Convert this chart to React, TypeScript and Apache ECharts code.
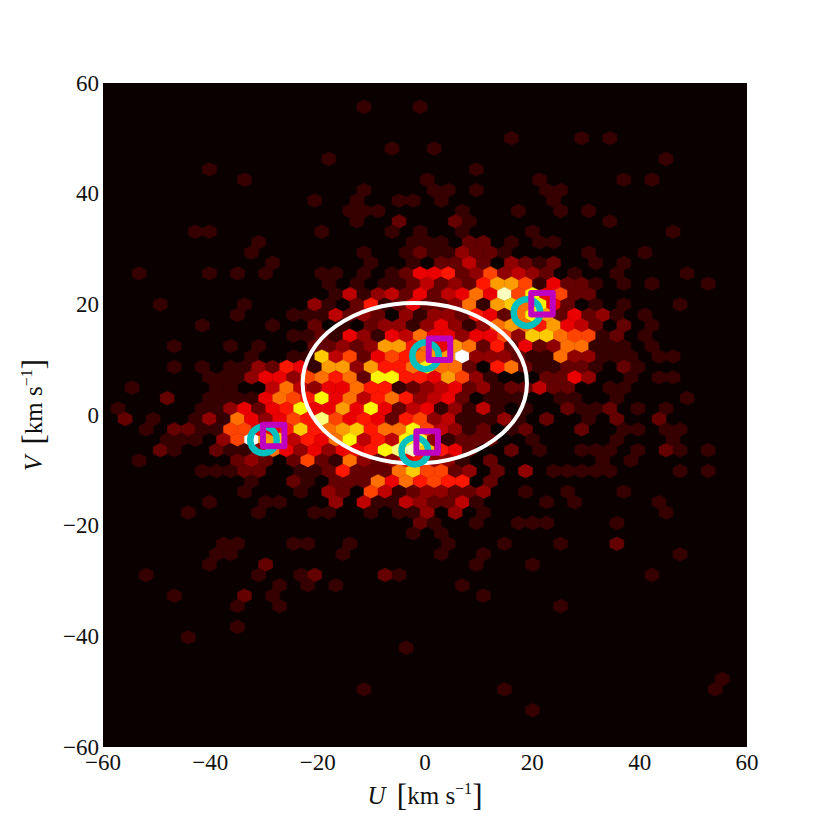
import React, { useEffect, useRef } from "react";
import * as echarts from "echarts";

const xTicks = [-60, -40, -20, 0, 20, 40, 60];
const yTicks = [-60, -40, -20, 0, 20, 40, 60];

// hexbin grid, in data units
const gridU0 = -61.12;
const gridDU = 2.618;
const gridV0 = 55.67;
const gridDV = 1.8796;

// counts 0..15 -> "hot" colormap
const levelColors = [
  "#0b0000", "#370000", "#640000", "#900000", "#bd0000", "#ea0000", "#ff1700", "#ff4400",
  "#ff7000", "#ff9d00", "#ffca00", "#fff600", "#ffff36", "#ffff7a", "#ffffbd", "#ffffff",
];

// [row, first column, counts (hex digits, "." = empty)]
const hexCounts: [number, number, string][] = [
  [0, 19, "1...1"],
  [3, 29, "1....1.1"],
  [4, 21, "1..1"],
  [5, 16, "1"],
  [5, 40, "1"],
  [6, 8, "1"],
  [6, 27, "1"],
  [7, 10, "1"],
  [7, 23, "1"],
  [7, 31, "1.....1.1"],
  [8, 19, "1....11.1....11"],
  [9, 15, "1..1..11.1.......1"],
  [10, 18, "111.....1...1..1.1"],
  [11, 18, "1..2...21.........1"],
  [12, 7, "11.......1....1.1..1....1.........1"],
  [13, 11, "1..........111.22.1.11"],
  [14, 11, "1.......1..12113221.....1...1"],
  [15, 12, "1......1..1.2242.3212..1.1"],
  [16, 3, "1....1.1.1...11.1.125562373432.1..1....1"],
  [17, 16, "1.1.1124232699715221.1.1...1"],
  [18, 17, "141342524585e7b5722"],
  [19, 4, "1.....1....31.26125223819a8b52.1.1...1"],
  [20, 10, "1...1114232.313326528b925231.1"],
  [21, 7, "1....1..2.1.23313531389869542.2.1"],
  [22, 14, "11215315485535573aa87712.1"],
  [23, 5, "1...1.1...22323996859826252388111.1"],
  [24, 11, "1..11a472576899f333211833111.11"],
  [25, 5, "1.1.11326519939668b882.68211221.21"],
  [26, 8, "111355378682bb6659731...2253..1.11"],
  [27, 2, "1.....11..4843558661234523122422..11"],
  [28, 5, "2..11115876b5846863452.111..11..1....1"],
  [29, 1, "1.....1135256b5595b524513141.1..2112.1.1"],
  [30, 2, "2.1..131853576d75652673411131.2..1.2..2"],
  [31, 3, "1.221177556a689a688b74312.12...2..11.11"],
  [32, 5, "111.37f9a4658b464bc31222..1.....1...1"],
  [33, 4, "21..211385353556bdea652..2.1..111.1.21.1"],
  [34, 3, "1......232.2721832356331.2.......1.1"],
  [35, 7, "11122..11262228a7723.2.3.11111....1.1"],
  [36, 11, "1..21.2228586766.2"],
  [37, 10, "1...1.32.741233223..1..1...1"],
  [38, 8, "1...11...3.411432241....1.1.....1"],
  [39, 6, "1....1...11..1.113.3.1"],
  [39, 40, "1"],
  [40, 23, "21..1..111....1"],
  [41, 22, "1.1"],
  [42, 9, "11...11..1......1...1...1...2"],
  [43, 8, "11.......1......1..1.............1"],
  [44, 8, "1...2..............1...1"],
  [45, 3, "1.......1..12....21"],
  [45, 39, "1"],
  [46, 13, "1.1.1........1"],
  [47, 5, "1....2.1..............1"],
  [48, 10, "1..1...................1"],
  [50, 10, "1"],
  [51, 6, "1"],
  [52, 22, "1"],
  [55, 44, "1"],
  [56, 19, "1.........1..............1"],
  [58, 31, "1"],
];

const ellipseCenter = [-1.9, 5.75];
const ellipseRadii = [20.9, 14.5];
const circlePoints = [
  [-30.1, -4.5],
  [0.1, 10.7],
  [-1.9, -6.5],
  [19.0, 18.5],
];
const squarePoints = [
  [-28.2, -3.7],
  [2.7, 11.9],
  [0.4, -4.9],
  [21.8, 20.1],
];

const hexData: number[][] = [];
hexCounts.forEach(([row, first, counts]) => {
  counts.split("").forEach((ch, i) => {
    if (ch === ".") return;
    const col = first + i;
    hexData.push([
      gridU0 + gridDU * (col + (row % 2 ? 0.5 : 0)),
      gridV0 - gridDV * row,
      parseInt(ch, 16),
    ]);
  });
});

const fontFamily = '"Liberation Serif", serif';
const tickFormat = (v: number) => (v < 0 ? "\u2212" + Math.abs(v) : String(v));

function axisName(symbol: string) {
  return `{it|${symbol}}{n| \u2009}{br|[}{n|km s}{sup|\u22121}{br|]}`;
}
const nameRich = {
  it: { fontFamily, fontStyle: "italic", fontSize: 25, color: "#111" },
  n: { fontFamily, fontSize: 25, color: "#111" },
  br: { fontFamily, fontSize: 31, color: "#111" },
  sup: { fontFamily, fontSize: 16, color: "#111", verticalAlign: "top", padding: [0, 0, 8, 0] },
};

export default function App() {
  const ref = useRef<HTMLDivElement>(null);
  useEffect(() => {
    document.body.style.margin = "0";
    const chart = echarts.init(ref.current!, undefined, { renderer: "svg" });
    chart.setOption({
      animation: false,
      backgroundColor: "#ffffff",
      grid: {
        left: 103,
        top: 83,
        width: 644,
        height: 664,
        show: true,
        backgroundColor: levelColors[0],
        borderWidth: 0,
      },
      xAxis: {
        type: "value",
        min: xTicks[0],
        max: xTicks[xTicks.length - 1],
        interval: 20,
        splitLine: { show: false },
        axisTick: { show: false },
        axisLine: { show: false },
        axisLabel: { formatter: tickFormat, fontFamily, fontSize: 23, lineHeight: 16, color: "#111", margin: 7 },
        name: axisName("U"),
        nameLocation: "middle",
        nameGap: 33,
        nameTextStyle: { rich: nameRich },
      },
      yAxis: {
        type: "value",
        min: yTicks[0],
        max: yTicks[yTicks.length - 1],
        interval: 20,
        splitLine: { show: false },
        axisTick: { show: false },
        axisLine: { show: false },
        axisLabel: {
          formatter: tickFormat,
          fontFamily,
          fontSize: 23,
          lineHeight: 16,
          padding: [0, 0, 7, 0],
          color: "#111",
          margin: 4,
        },
        name: axisName("V"),
        nameLocation: "middle",
        nameGap: 54,
        nameTextStyle: { rich: nameRich },
      },
      series: [
        {
          type: "custom",
          data: hexData,
          encode: { x: 0, y: 1 },
          clip: true,
          z: 2,
          renderItem: (_p: any, api: any) => {
            const u = api.value(0);
            const v = api.value(1);
            const hw = gridDU / 2;
            const hh = (gridDV * 2) / 3;
            const pts = [
              [u, v + hh],
              [u + hw, v + hh / 2],
              [u + hw, v - hh / 2],
              [u, v - hh],
              [u - hw, v - hh / 2],
              [u - hw, v + hh / 2],
            ].map((p) => api.coord(p));
            const color = levelColors[api.value(2)];
            return {
              type: "polygon",
              shape: { points: pts },
              style: { fill: color, stroke: color, lineWidth: 0.4 },
            };
          },
        },
        {
          type: "custom",
          data: [[ellipseCenter[0], ellipseCenter[1]]],
          encode: { x: 0, y: 1 },
          clip: true,
          z: 3,
          renderItem: (_p: any, api: any) => {
            const c = api.coord([api.value(0), api.value(1)]);
            const s = api.size([ellipseRadii[0], ellipseRadii[1]]);
            return {
              type: "ellipse",
              shape: { cx: c[0], cy: c[1], rx: s[0], ry: s[1] },
              style: { fill: "none", stroke: "#ffffff", lineWidth: 4 },
            };
          },
        },
        {
          type: "scatter",
          data: circlePoints,
          symbol: "circle",
          symbolSize: 26.5,
          z: 4,
          itemStyle: { color: "rgba(0,0,0,0)", borderColor: "#00bfbf", borderWidth: 6.5, opacity: 1 },
        },
        {
          type: "scatter",
          data: squarePoints,
          symbol: "rect",
          symbolSize: 21.5,
          z: 5,
          itemStyle: { color: "rgba(0,0,0,0)", borderColor: "#bf00bf", borderWidth: 6, borderJoin: "round", opacity: 1 },
        },
      ],
    });
    return () => chart.dispose();
  }, []);
  return <div ref={ref} style={{ width: 830, height: 830 }} />;
}
